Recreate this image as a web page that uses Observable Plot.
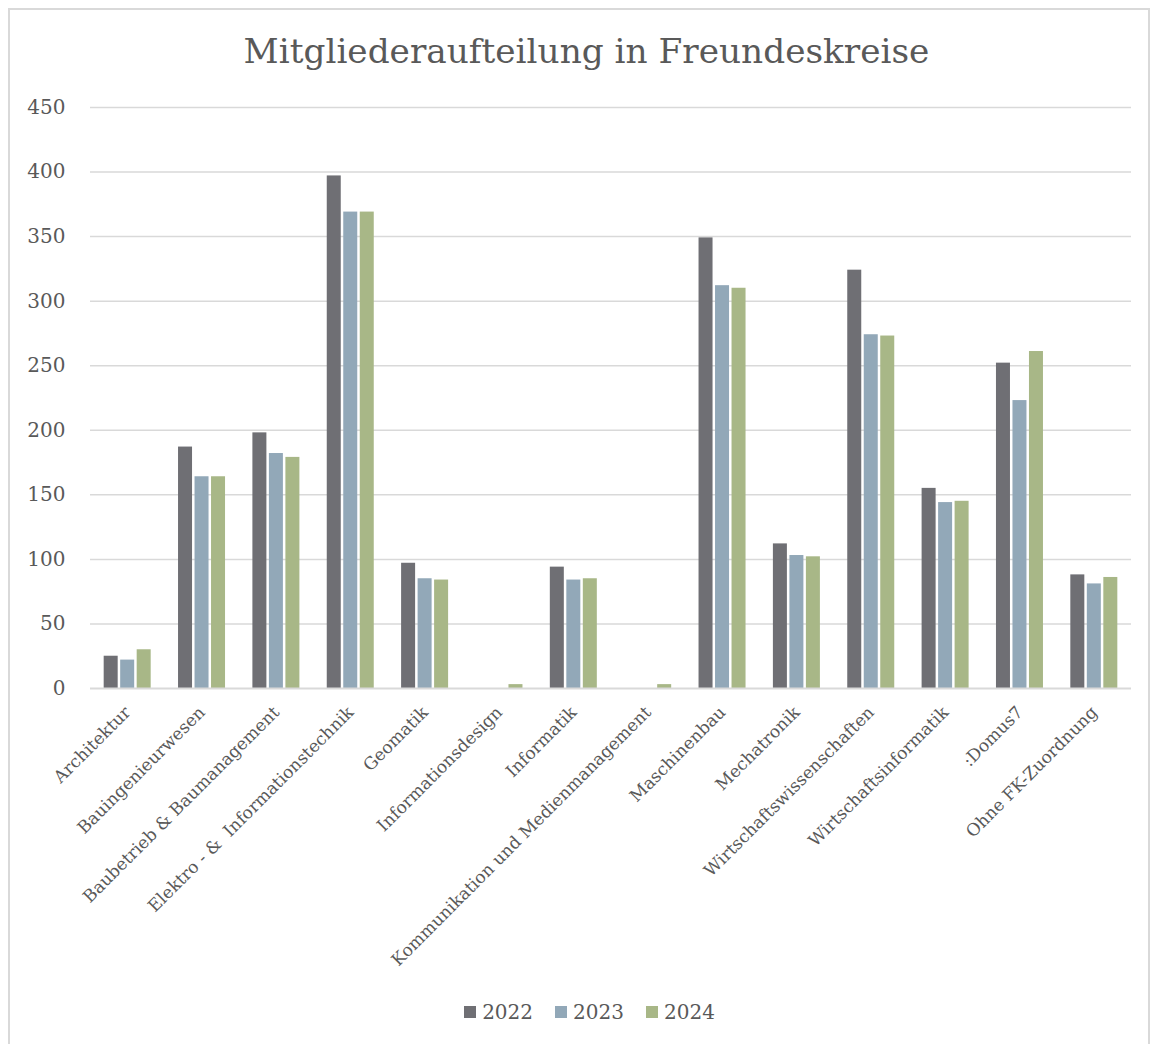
<!DOCTYPE html>
<html><head><meta charset="utf-8">
<script src="https://cdn.jsdelivr.net/npm/d3@7"></script>
<script src="https://cdn.jsdelivr.net/npm/@observablehq/plot@0.6"></script>
<style>
body{margin:0;background:#fff;font-family:"DejaVu Serif",serif;color:#595959;width:1153px;height:1044px;overflow:hidden;position:relative}
#frame{position:absolute;left:8px;top:8px;width:1142px;height:1040px;border:2px solid #d9d9d9;border-bottom:none;box-sizing:border-box;pointer-events:none}
#title{height:90px;box-sizing:border-box;padding-top:31px;padding-left:20px;text-align:center;font-size:34.3px;line-height:40px;}
#legend{display:flex;justify-content:center;align-items:center;padding-left:26px;margin-top:10px;font-size:20px;}
#legend .item{display:flex;align-items:center;margin:0 11px}
#legend .sw{width:12px;height:12px;margin-right:6px}
</style></head>
<body>
<div id="frame"></div>
<div id="title">Mitgliederaufteilung in Freundeskreise</div>
<div id="chart"></div>
<div id="legend"></div>
<script>
const categories = ["Architektur","Bauingenieurwesen","Baubetrieb & Baumanagement","Elektro - &  Informationstechnik","Geomatik","Informationsdesign","Informatik","Kommunikation und Medienmanagement","Maschinenbau","Mechatronik","Wirtschaftswissenschaften","Wirtschaftsinformatik",":Domus7","Ohne FK-Zuordnung"];
const years = ["2022","2023","2024"];
const v2022 = [25,187,198,397,97,0,94,0,349,112,324,155,252,88];
const v2023 = [22,164,182,369,85,0,84,0,312,103,274,144,223,81];
const v2024 = [30,164,179,369,84,3,85,3,310,102,273,145,261,86];
const yTicks = [0,50,100,150,200,250,300,350,400,450];
const colors = ["#6f6f74","#92a8b8","#a8b787"];

const series = [v2022, v2023, v2024];
const rows = categories.flatMap((c, i) => years.map((y, k) => ({cat: c, year: y, value: series[k][i]})));

const W = 1153, mL = 90, mR = 22;
const step = (W - mL - mR) / categories.length;
const barW = 14, gap = 2.5, groupW = 3 * barW + 2 * gap;
const pin = 1 - groupW / step;

const plot = Plot.plot({
  width: W, height: 900,
  marginLeft: mL, marginRight: mR, marginTop: 17, marginBottom: 302,
  style: {fontFamily: '"DejaVu Serif", serif', color: "#595959", background: "transparent"},
  x: {domain: categories, paddingInner: pin, paddingOuter: pin / 2, round: false},
  y: {domain: [0, 450]},
  marks: [
    Plot.gridY(yTicks.slice(1), {stroke: "#d9d9d9", strokeOpacity: 1, strokeWidth: 1.5}),
    ...years.map((y, k) => Plot.barY(rows.filter(d => d.year === y), {
      x: "cat", y: "value", fill: colors[k],
      insetLeft: k * (barW + gap), insetRight: groupW - barW - k * (barW + gap)
    })),
    Plot.ruleY([0], {stroke: "#d9d9d9", strokeWidth: 2}),
    Plot.axisY(yTicks, {tickSize: 0, tickPadding: 25, fontSize: 20, label: null}),
    Plot.axisX({tickRotate: -45, tickSize: 0, tickPadding: 21, fontSize: 17.1, label: null})
  ]
});
document.getElementById("chart").appendChild(plot);

const lg = document.getElementById("legend");
years.forEach((y, k) => {
  const it = document.createElement("div"); it.className = "item";
  const sw = document.createElement("div"); sw.className = "sw"; sw.style.background = colors[k];
  const t = document.createElement("span"); t.textContent = y;
  it.appendChild(sw); it.appendChild(t); lg.appendChild(it);
});
</script>
</body></html>
